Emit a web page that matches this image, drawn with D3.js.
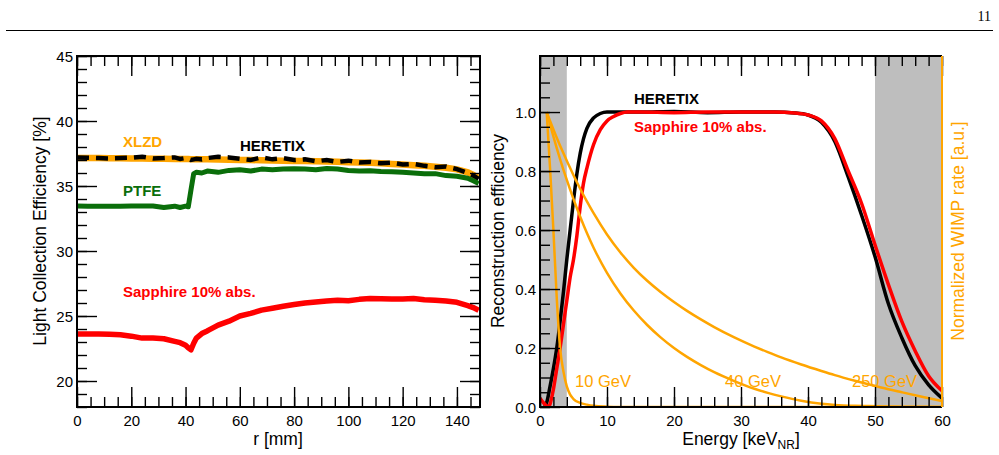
<!DOCTYPE html>
<html>
<head>
<meta charset="utf-8">
<script src="https://cdn.jsdelivr.net/npm/d3@7"></script>
<style>
  body { margin: 0; background: #fff; }
  svg { display: block; font-family: 'Liberation Sans', Arial, sans-serif; }
  .tick line { stroke: #000; stroke-width: 1.4; }
  .tick text { font-size: 15px; fill: #000; }
</style>
</head>
<body>
<div id="graph"></div>
<script>
// ---- left panel: light collection efficiency vs r ----
const rValues = [0, 4, 8, 12, 16, 20, 24, 28, 32, 36, 38, 40, 41, 42, 43, 44, 46, 48, 52, 56, 60, 64, 68, 72, 76, 80, 84, 88, 92, 96, 100, 104, 108, 112, 116, 120, 124, 128, 132, 136, 140, 144, 146, 148]
const xlzdLCE = [37.15, 37.15, 37.15, 37.14, 37.13, 37.12, 37.12, 37.1, 37.1, 37.08, 37.08, 37.07, 37.07, 37.06, 37.06, 37.06, 37.05, 37.05, 37.03, 37.02, 37.0, 37.0, 36.98, 36.97, 36.95, 36.93, 36.92, 36.9, 36.88, 36.86, 36.83, 36.8, 36.78, 36.75, 36.7, 36.66, 36.6, 36.55, 36.48, 36.4, 36.28, 36.05, 35.85, 35.6]
const heretixLCE = [37.2, 37.18, 37.15, 37.12, 37.15, 37.18, 37.25, 37.12, 37.15, 37.2, 37.08, 37.15, 37.1, 37.0, 37.05, 37.1, 37.05, 37.15, 37.25, 37.2, 37.1, 37.0, 37.2, 37.05, 37.15, 37.0, 37.05, 36.9, 37.0, 36.85, 36.95, 36.8, 36.85, 36.75, 36.8, 36.65, 36.7, 36.55, 36.45, 36.5, 36.3, 36.0, 35.8, 35.55]
const ptfeLCE = [33.46, 33.45, 33.44, 33.44, 33.45, 33.46, 33.47, 33.46, 33.35, 33.45, 33.35, 33.45, 33.4, 34.7, 35.95, 36.05, 36.0, 36.15, 36.05, 36.2, 36.25, 36.15, 36.3, 36.25, 36.3, 36.32, 36.3, 36.25, 36.35, 36.3, 36.2, 36.15, 36.18, 36.12, 36.1, 36.05, 36.0, 35.95, 35.95, 35.8, 35.75, 35.6, 35.4, 35.2]
const sapphireLCE = [23.62, 23.62, 23.62, 23.6, 23.55, 23.45, 23.3, 23.3, 23.25, 23.05, 22.95, 22.75, 22.55, 22.4, 22.9, 23.3, 23.65, 23.85, 24.3, 24.6, 25.0, 25.2, 25.45, 25.6, 25.75, 25.88, 26.0, 26.08, 26.15, 26.22, 26.18, 26.28, 26.35, 26.32, 26.3, 26.3, 26.35, 26.25, 26.22, 26.15, 26.05, 25.8, 25.65, 25.45]
const rTicks = [0, 20, 40, 60, 80, 100, 120, 140]
const lceTicks = [20, 25, 30, 35, 40, 45]

// ---- right panel: reconstruction efficiency and WIMP spectra ----
const heretixE = [0.7, 1, 1.5, 2, 2.5, 3, 3.5, 4, 4.5, 5, 5.5, 6, 6.5, 7, 8, 9, 10, 12, 15, 20, 25, 30, 35, 38, 40, 42, 44, 46, 48, 50, 52, 54, 56, 58, 60]
const heretixEff = [0, 0.015, 0.07, 0.13, 0.2, 0.29, 0.39, 0.5, 0.6, 0.7, 0.79, 0.86, 0.91, 0.945, 0.98, 0.995, 1.0, 1.0, 1.0, 1.002, 0.998, 1.0, 1.0, 0.997, 0.99, 0.965, 0.9, 0.78, 0.65, 0.51, 0.35, 0.235, 0.14, 0.075, 0.03]
const sapphireE = [0, 0.5, 1, 1.2, 1.5, 2, 2.5, 3, 3.5, 4, 4.5, 5, 5.5, 6, 6.5, 7, 8, 9, 10, 11, 12, 13, 15, 20, 25, 30, 35, 38, 40, 42, 44, 46, 48, 50, 52, 54, 56, 58, 60]
const sapphireEff = [0.03, 0.015, 0.003, 0, 0.01, 0.06, 0.13, 0.2, 0.28, 0.36, 0.44, 0.5, 0.58, 0.68, 0.76, 0.81, 0.89, 0.94, 0.97, 0.985, 0.995, 1.0, 1.0, 0.998, 1.0, 1.0, 1.0, 0.997, 0.99, 0.97, 0.91, 0.8, 0.69, 0.55, 0.415, 0.29, 0.19, 0.105, 0.055]
const wimpE = [1, 1.5, 2, 2.5, 3, 3.5, 4, 4.5, 5, 6, 7, 8, 10, 12, 14, 16, 18, 20, 22, 24, 26, 29, 32, 34, 36, 39, 42, 44, 47, 49, 52, 54, 57, 60]
const wimp10 = [1, 0.81, 0.6, 0.37, 0.2, 0.12, 0.07, 0.042, 0.027, 0.014, 0.008, 0.004, 0.001, 0, 0, 0, 0, 0, 0, 0, 0, 0, 0, 0, 0, 0, 0, 0, 0, 0, 0, 0, 0, 0]
const wimp40 = [1, 0.958, 0.917, 0.878, 0.84, 0.804, 0.77, 0.737, 0.705, 0.645, 0.59, 0.54, 0.455, 0.385, 0.327, 0.278, 0.236, 0.2, 0.169, 0.142, 0.118, 0.088, 0.062, 0.048, 0.036, 0.021, 0.011, 0.007, 0.004, 0.003, 0.002, 0.001, 0.0005, 0]
const wimp250 = [1, 0.97, 0.941, 0.913, 0.886, 0.86, 0.835, 0.81, 0.786, 0.74, 0.697, 0.657, 0.585, 0.524, 0.472, 0.428, 0.39, 0.356, 0.325, 0.297, 0.271, 0.236, 0.205, 0.186, 0.168, 0.144, 0.122, 0.108, 0.089, 0.077, 0.06, 0.05, 0.035, 0.02]
const excludedBands = [[0, 4], [50, 60]]
const energyTicks = [0, 10, 20, 30, 40, 50, 60]
const effTicks = [0, 0.2, 0.4, 0.6, 0.8, 1.0]

const ORANGE = '#ffa500', GREEN = '#0a6e0a', RED = '#ff0000'

const svg = d3.select('#graph').append('svg').attr('width', 999).attr('height', 455)

// page header
svg.append('line').attr('x1', 6).attr('x2', 993).attr('y1', 30.5).attr('y2', 30.5)
  .attr('stroke', '#000').attr('stroke-width', 1)
svg.append('text').attr('x', 991).attr('y', 21).attr('text-anchor', 'end')
  .style('font-family', "'Liberation Serif', 'DejaVu Serif', serif").style('font-size', '14px').text('11')

// draws ROOT style inward ticks on all requested sides
function drawFrameAxes(g, x, y, opt) {
  const [xa, xb] = x.range(), [ya, yb] = y.range()
  const minorX = d3.range(x.domain()[0], x.domain()[1] + 1e-9, opt.xMinor)
  const minorY = d3.range(y.domain()[0], y.domain()[1] + 1e-9, opt.yMinor)

  const addAxis = (axis, tf, labels) => {
    const a = g.append('g').attr('transform', tf).call(axis)
    a.select('.domain').remove()
    if (!labels) a.selectAll('text').remove()
    return a
  }

  // bottom
  addAxis(d3.axisBottom(x).tickValues(opt.xTicks).tickSize(-20).tickPadding(5).tickFormat(d3.format('d')), `translate(0,${ya})`, true)
  addAxis(d3.axisBottom(x).tickValues(minorX).tickSize(-10).tickFormat(''), `translate(0,${ya})`, false)
  // top
  addAxis(d3.axisTop(x).tickValues(opt.xTicks).tickSize(-20), `translate(0,${yb})`, false)
  addAxis(d3.axisTop(x).tickValues(minorX).tickSize(-10), `translate(0,${yb})`, false)
  // left
  addAxis(d3.axisLeft(y).tickValues(opt.yTicks).tickSize(-20).tickPadding(4).tickFormat(opt.yFormat), `translate(${xa},0)`, true)
  addAxis(d3.axisLeft(y).tickValues(minorY).tickSize(-10), `translate(${xa},0)`, false)
  if (opt.rightTicks) {
    addAxis(d3.axisRight(y).tickValues(opt.yTicks).tickSize(-20), `translate(${xb},0)`, false)
    addAxis(d3.axisRight(y).tickValues(minorY).tickSize(-10), `translate(${xb},0)`, false)
  }
  g.selectAll('.tick text').each(function () {
    const t = d3.select(this)
    if (t.attr('y') !== null && +t.attr('y') > 0) t.attr('dy', '0.95em')
    else t.attr('dy', '0.35em')
  })
}

// ---------------- left panel ----------------
const xL = d3.scaleLinear().domain([0, 148.5]).range([77, 480])
const yL = d3.scaleLinear().domain([18, 45]).range([407, 56])
const left = svg.append('g')

const lineL = (vals) => d3.line().x((d, i) => xL(rValues[i])).y((d) => yL(d))(vals)

left.append('path').attr('d', lineL(xlzdLCE)).attr('fill', 'none').attr('stroke', ORANGE).attr('stroke-width', 6.5)
left.append('path').attr('d', lineL(heretixLCE)).attr('fill', 'none').attr('stroke', '#000').attr('stroke-width', 4.5).attr('stroke-dasharray', '12,7')
left.append('path').attr('d', lineL(ptfeLCE)).attr('fill', 'none').attr('stroke', GREEN).attr('stroke-width', 5).attr('stroke-linejoin', 'round')
left.append('path').attr('d', lineL(sapphireLCE)).attr('fill', 'none').attr('stroke', RED).attr('stroke-width', 5.5).attr('stroke-linejoin', 'round')

drawFrameAxes(left, xL, yL, { xTicks: rTicks, xMinor: 5, yTicks: lceTicks, yMinor: 1, yFormat: d3.format('d'), rightTicks: true })
left.append('rect').attr('x', 77).attr('y', 56).attr('width', 403).attr('height', 351)
  .attr('fill', 'none').attr('stroke', '#000').attr('stroke-width', 2)

const lbl = (g, x, y, txt, col, bold, size) => g.append('text').attr('x', x).attr('y', y).text(txt)
  .attr('fill', col).style('font-weight', bold ? 'bold' : 'normal').style('font-size', size + 'px')
lbl(left, 123, 147, 'XLZD', ORANGE, true, 15)
lbl(left, 240, 151, 'HERETIX', '#000', true, 15)
lbl(left, 123, 196, 'PTFE', GREEN, true, 15)
lbl(left, 123, 297, 'Sapphire 10% abs.', RED, true, 15)

left.append('text').attr('x', 278).attr('y', 445).attr('text-anchor', 'middle').style('font-size', '17.5px').text('r [mm]')
left.append('text').attr('transform', 'translate(46,231) rotate(-90)').attr('text-anchor', 'middle')
  .style('font-size', '17.5px').text('Light Collection Efficiency [%]')

// ---------------- right panel ----------------
const xR = d3.scaleLinear().domain([0, 60]).range([540, 942])
const yR = d3.scaleLinear().domain([0, 1.19]).range([407, 56])
const right = svg.append('g')

right.append('clipPath').attr('id', 'clipR').append('rect').attr('x', 540).attr('y', 56).attr('width', 402).attr('height', 351)

right.selectAll('rect.band').data(excludedBands).join('rect').attr('class', 'band')
  .attr('x', (d) => xR(d[0])).attr('width', (d) => xR(d[1]) - xR(d[0]))
  .attr('y', 56).attr('height', 351).attr('fill', '#bebebe')

const plot = right.append('g').attr('clip-path', 'url(#clipR)')
const lineR = (xs, ys) => d3.line().curve(d3.curveMonotoneX).x((d, i) => xR(xs[i])).y((d) => yR(d))(ys)

plot.append('path').attr('d', lineR(heretixE, heretixEff)).attr('fill', 'none').attr('stroke', '#000').attr('stroke-width', 3.5)
plot.append('path').attr('d', lineR(sapphireE, sapphireEff)).attr('fill', 'none').attr('stroke', RED).attr('stroke-width', 3.5)
;[wimp10, wimp40, wimp250].forEach((w) => {
  plot.append('path').attr('d', lineR(wimpE, w)).attr('fill', 'none').attr('stroke', ORANGE).attr('stroke-width', 2.5)
})

drawFrameAxes(right, xR, yR, { xTicks: energyTicks, xMinor: 2, yTicks: effTicks, yMinor: 0.05, yFormat: d3.format('.1f'), rightTicks: false })
right.append('path').attr('d', 'M942,407 L540,407 L540,56 L942,56').attr('fill', 'none').attr('stroke', '#000').attr('stroke-width', 2)
right.append('line').attr('x1', 942).attr('x2', 942).attr('y1', 56).attr('y2', 407).attr('stroke', ORANGE).attr('stroke-width', 2)

lbl(right, 634, 104, 'HERETIX', '#000', true, 15)
lbl(right, 634, 132, 'Sapphire 10% abs.', RED, true, 15)
lbl(right, 575, 387, '10 GeV', ORANGE, false, 16.5)
lbl(right, 725, 387, '40 GeV', ORANGE, false, 16.5)
lbl(right, 852, 387, '250 GeV', ORANGE, false, 16.5)

const et = right.append('text').attr('x', 741).attr('y', 445).attr('text-anchor', 'middle').style('font-size', '17.5px')
et.append('tspan').text('Energy [keV')
et.append('tspan').text('NR').attr('dy', 4).style('font-size', '12px')
et.append('tspan').text(']').attr('dy', -4)
right.append('text').attr('transform', 'translate(504,231) rotate(-90)').attr('text-anchor', 'middle')
  .style('font-size', '17.5px').text('Reconstruction efficiency')
right.append('text').attr('transform', 'translate(964,231) rotate(-90)').attr('text-anchor', 'middle')
  .attr('fill', ORANGE).style('font-size', '17.5px').text('Normalized WIMP rate [a.u.]')
</script>
</body>
</html>
